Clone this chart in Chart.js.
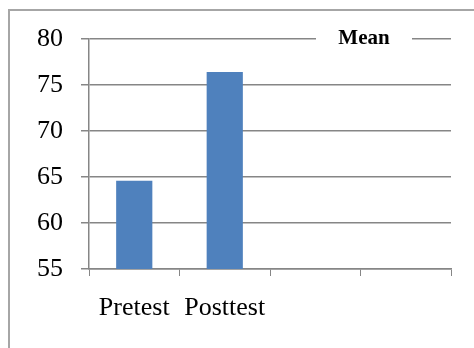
<!DOCTYPE html>
<html>
<head>
<meta charset="utf-8">
<script src="https://cdn.jsdelivr.net/npm/chart.js@4/dist/chart.umd.min.js"></script>
<style>
  html, body { margin: 0; padding: 0; background: #ffffff; }
  canvas { display: block; }
</style>
</head>
<body>
<canvas id="meanChart" width="474" height="348"></canvas>
<script>
const categories = ['Pretest', 'Posttest', '', ''];
const meanValues = [64.6, 76.4, null, null];
const yTicks = [55, 60, 65, 70, 75, 80];
const seriesName = 'Mean';

const lineGray = '#868686';
const serif = "'Liberation Serif', serif";

Chart.defaults.font.family = serif;
Chart.defaults.color = '#000000';

// outer frame and the title sitting over the top gridline
const decorations = {
    id: 'decorations',
    afterDraw(chart) {
        const c = chart.ctx;
        c.save();
        c.fillStyle = '#a6a6a6';
        c.fillRect(8, 9, 2, 339);
        c.fillRect(8, 9, 466, 2);

        const y = chart.scales.y.getPixelForValue(80);
        c.fillStyle = '#ffffff';
        c.fillRect(316, y - 3, 96, 6);
        c.fillStyle = '#000000';
        c.font = 'bold 21px ' + serif;
        c.textAlign = 'center';
        c.textBaseline = 'middle';
        c.fillText(seriesName, 364, y);
        c.restore();
    }
};

new Chart(document.getElementById('meanChart'), {
    type: 'bar',
    data: {
        labels: categories,
        datasets: [{
            label: seriesName,
            data: meanValues,
            backgroundColor: '#4f81bd',
            barPercentage: 0.4,
            categoryPercentage: 1
        }]
    },
    options: {
        responsive: false,
        animation: false,
        layout: {
            padding: { left: 0, top: 39, right: 23, bottom: 0 }
        },
        plugins: {
            legend: { display: false },
            tooltip: { enabled: false }
        },
        scales: {
            x: {
                afterFit(scale) { scale.height = 79; },
                grid: {
                    drawOnChartArea: false,
                    color: lineGray,
                    tickLength: 7,
                    lineWidth: 1
                },
                border: { color: lineGray, width: 1.5 },
                ticks: {
                    color: '#000000',
                    padding: 17,
                    maxRotation: 0,
                    font: { family: serif, size: 26 }
                }
            },
            y: {
                min: 55,
                max: 80,
                afterFit(scale) { scale.width = 89; },
                afterBuildTicks(scale) {
                    scale.ticks = yTicks.map(v => ({ value: v }));
                },
                grid: {
                    color: lineGray,
                    lineWidth: 1.5,
                    tickLength: 8
                },
                border: { color: lineGray, width: 1.5 },
                ticks: {
                    color: '#000000',
                    padding: 18,
                    font: { family: serif, size: 26 }
                }
            }
        }
    },
    plugins: [decorations]
});
</script>
</body>
</html>
